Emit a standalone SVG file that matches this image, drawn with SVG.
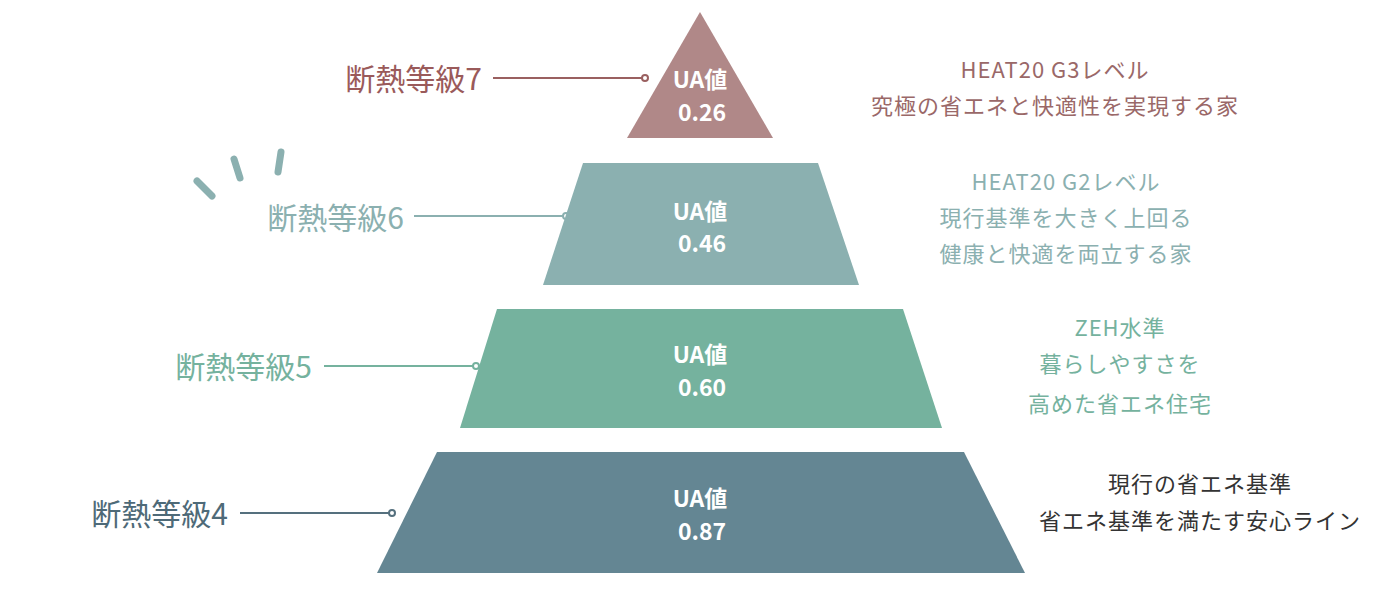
<svg xmlns="http://www.w3.org/2000/svg" width="1400" height="600" viewBox="0 0 1400 600">
<style>
text{font-family:"Noto Sans CJK JP","Noto Sans",sans-serif}
.lbl{font-size:30px;text-anchor:end}
.ua{font-size:23px;font-weight:bold;fill:#fff;text-anchor:middle}
.desc{font-size:22px;text-anchor:middle;letter-spacing:1px}
.ln{stroke-width:2;fill:none}
.dot{fill:#fff;stroke-width:2}
</style>
<rect width="1400" height="600" fill="#fff"/>
<g id="accent" stroke="#8bb0b0" stroke-width="7" stroke-linecap="round">
<line x1="197" y1="181" x2="212" y2="196"/><line x1="234" y1="159" x2="240" y2="178"/><line x1="281" y1="152" x2="278" y2="172"/>
</g>
<g id="connectors">
<line class="ln" stroke="#9a6060" x1="493" y1="78" x2="642" y2="78"/><circle class="dot" stroke="#9a6060" cx="645" cy="78" r="3"/>
<line class="ln" stroke="#8bb0b0" x1="414" y1="216" x2="563" y2="216"/><circle class="dot" stroke="#8bb0b0" cx="566" cy="216" r="3"/>
<line class="ln" stroke="#75b29e" x1="324" y1="366" x2="473" y2="366"/><circle class="dot" stroke="#75b29e" cx="476" cy="366" r="3"/>
<line class="ln" stroke="#55707e" x1="240" y1="513" x2="389" y2="513"/><circle class="dot" stroke="#55707e" cx="392" cy="513" r="3"/>
</g>
<g id="g7">
<polygon points="700,12 773,138 627,138" fill="#b08888"/>
<text class="ua" x="700" y="88">UA値</text><text class="ua" x="702" y="121">0.26</text>
<text class="lbl" x="482" y="90" fill="#9a5a5a">断熱等級7</text>
<text class="desc" fill="#9a6868"><tspan x="1055" y="78">HEAT20 G3レベル</tspan><tspan x="1055" y="114">究極の省エネと快適性を実現する家</tspan></text>
</g>
<g id="g6">
<polygon points="583,163 818,163 859,285 543,285" fill="#8bb0b0"/>
<text class="ua" x="700" y="220">UA値</text><text class="ua" x="702" y="252">0.46</text>
<text class="lbl" x="404" y="229" fill="#8bb0b0">断熱等級6</text>
<text class="desc" fill="#8bb0b0"><tspan x="1066" y="190">HEAT20 G2レベル</tspan><tspan x="1066" y="226">現行基準を大きく上回る</tspan><tspan x="1066" y="262">健康と快適を両立する家</tspan></text>
</g>
<g id="g5">
<polygon points="497,309 903,309 942,428 460,428" fill="#75b29e"/>
<text class="ua" x="700" y="363">UA値</text><text class="ua" x="702" y="396">0.60</text>
<text class="lbl" x="312" y="378" fill="#75b29e">断熱等級5</text>
<text class="desc" fill="#75b29e"><tspan x="1120" y="336">ZEH水準</tspan><tspan x="1120" y="372">暮らしやすさを</tspan><tspan x="1120" y="412">高めた省エネ住宅</tspan></text>
</g>
<g id="g4">
<polygon points="437,452 964,452 1025,573 377,573" fill="#648693"/>
<text class="ua" x="700" y="507">UA値</text><text class="ua" x="702" y="540">0.87</text>
<text class="lbl" x="228" y="525" fill="#4e6a78">断熱等級4</text>
<text class="desc" fill="#333"><tspan x="1200" y="492">現行の省エネ基準</tspan><tspan x="1200" y="529">省エネ基準を満たす安心ライン</tspan></text>
</g>
</svg>
